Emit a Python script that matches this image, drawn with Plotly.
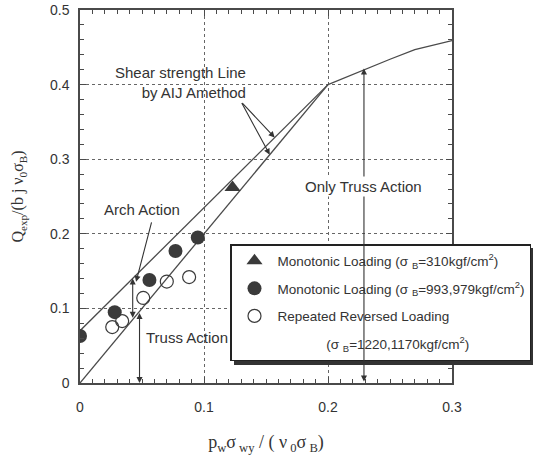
import plotly.graph_objects as go

# ---- data ----
truss_x = [0.0, 0.2]
truss_y = [0.0, 0.4]
arch_x = [0.0, 0.2]
arch_y = [0.07, 0.4]
curve_x = [0.2, 0.23, 0.25, 0.27, 0.3]
curve_y = [0.4, 0.421, 0.434, 0.447, 0.459]

tri_x = [0.123]
tri_y = [0.262]
filled_x = [0.0, 0.028, 0.056, 0.077, 0.095]
filled_y = [0.063, 0.095, 0.138, 0.177, 0.195]
open_x = [0.026, 0.034, 0.051, 0.070, 0.088]
open_y = [0.075, 0.083, 0.114, 0.136, 0.142]

x_ticks = [0, 0.1, 0.2, 0.3]
x_ticklabels = ["0", "0.1", "0.2", "0.3"]
y_ticks = [0, 0.1, 0.2, 0.3, 0.4, 0.5]
y_ticklabels = ["0", "0.1", "0.2", "0.3", "0.4", "0.5"]

LINE = "#4a4a4a"
TXT = "#333333"
SANS = "Liberation Sans, Arial, sans-serif"
SERIF = "Liberation Serif, Times New Roman, serif"
NB = "\u00a0"

fig = go.Figure()
for xs, ys in [(truss_x, truss_y), (arch_x, arch_y), (curve_x, curve_y)]:
    fig.add_trace(go.Scatter(x=xs, y=ys, mode="lines", showlegend=False,
                             line=dict(color=LINE, width=1.3), hoverinfo="skip"))

fig.add_trace(go.Scatter(x=tri_x, y=tri_y, mode="markers",
                         name="Monotonic Loading (σ" + NB + "<sub>B</sub>=310kgf/cm<sup>2</sup>)",
                         marker=dict(symbol="triangle-up", size=14, color="#3a3a3a"),
                         legendgroup="a"))
fig.add_trace(go.Scatter(x=filled_x, y=filled_y, mode="markers",
                         name="Monotonic Loading (σ" + NB + "<sub>B</sub>=993,979kgf/cm<sup>2</sup>)",
                         marker=dict(symbol="circle", size=14, color="#3a3a3a"),
                         legendgroup="b"))
fig.add_trace(go.Scatter(x=open_x, y=open_y, mode="markers",
                         name="Repeated Reversed Loading",
                         marker=dict(symbol="circle-open", size=13, color="#3a3a3a",
                                     line=dict(width=1.2, color="#3a3a3a")),
                         legendgroup="c"))
# second line of the third legend entry (text only)
fig.add_trace(go.Scatter(x=[None], y=[None], mode="markers",
                         name=NB * 13 + "(σ" + NB + "<sub>B</sub>=1220,1170kgf/cm<sup>2</sup>)",
                         marker=dict(size=1, color="rgba(0,0,0,0)"),
                         legendgroup="d", hoverinfo="skip"))

ann = []
def arrow(x, y, ax, ay, both=False):
    ann.append(dict(x=x, y=y, ax=ax, ay=ay, xref="x", yref="y", axref="x", ayref="y",
                    text="", showarrow=True, arrowhead=2, arrowsize=1.1, arrowwidth=1.1,
                    arrowcolor="#333", arrowside="end+start" if both else "end",
                    startarrowhead=2, startarrowsize=1.1))

def label(x, y, text, xanchor="center", align="center", bg=None):
    d = dict(x=x, y=y, xref="x", yref="y", text=text, showarrow=False,
             xanchor=xanchor, yanchor="middle", align=align,
             font=dict(family=SANS, size=15, color=TXT))
    if bg:
        d["bgcolor"] = bg
    ann.append(d)

label(0.1355, 0.4027, "Shear strength Line<br>by AIJ Amethod", xanchor="right", align="right")
arrow(0.157, 0.329, 0.1298, 0.3772)
arrow(0.153, 0.306, 0.1298, 0.3772)

label(0.050, 0.232, "Arch Action")
arrow(0.0452, 0.1356, 0.058, 0.2174)
arrow(0.0425, 0.140, 0.0425, 0.0855, both=True)

arrow(0.048, 0.0, 0.048, 0.096, both=True)
label(0.0516, 0.0604, "Truss Action", xanchor="left", align="left")

arrow(0.229, 0.4215, 0.229, 0.0, both=True)
label(0.229, 0.263, "Only Truss Action", bg="white")

axis_common = dict(showline=True, linecolor=LINE, linewidth=1.5, mirror="allticks",
                   ticks="inside", ticklen=6, tickcolor=LINE, tickwidth=1,
                   showgrid=True, gridcolor="#666", griddash="dot", gridwidth=1,
                   zeroline=False, automargin=False,
                   tickfont=dict(family=SANS, size=14, color=TXT))

fig.update_layout(
    width=536, height=459,
    margin=dict(l=80, r=84, t=10, b=76, autoexpand=False),
    plot_bgcolor="white", paper_bgcolor="white",
    xaxis=dict(range=[0, 0.3], tickvals=x_ticks, ticktext=x_ticklabels,
               minor=dict(dtick=0.01, ticks="inside", ticklen=4, tickcolor=LINE, showgrid=False),
               ticklabelstandoff=10,
               title=dict(text="p<sub>w</sub>σ<sub>" + NB + "wy</sub>" + NB + "/" + NB + "(" + NB + "ν<sub>" + NB + "0</sub>σ<sub>" + NB + "B</sub>)",
                          font=dict(family=SERIF, size=18, color=TXT), standoff=22),
               **axis_common),
    yaxis=dict(range=[0, 0.5], tickvals=y_ticks, ticktext=y_ticklabels,
               minor=dict(dtick=0.02, ticks="inside", ticklen=4, tickcolor=LINE, showgrid=False),
               ticklabelstandoff=6,
               title=dict(text="Q<sub>exp</sub>/(b" + NB + "j" + NB + "ν<sub>0</sub>σ<sub>B</sub>)",
                          font=dict(family=SERIF, size=16, color=TXT), standoff=22),
               **axis_common),
    legend=dict(x=(230 - 80) / 372, y=(383 - 244) / 373, xanchor="left", yanchor="top",
                bgcolor="white", bordercolor="#222", borderwidth=1.5,
                font=dict(family=SANS, size=13.5, color=TXT),
                itemwidth=36, tracegroupgap=7),
    annotations=ann,
    shapes=[dict(type="rect", xref="paper", yref="paper",
                 x0=(234 - 80) / 372, x1=(533 - 80) / 372,
                 y0=(383 - 365) / 373, y1=(383 - 248) / 373,
                 fillcolor="#333", line=dict(width=0), layer="above")],
)

fig.write_html("out.html")
